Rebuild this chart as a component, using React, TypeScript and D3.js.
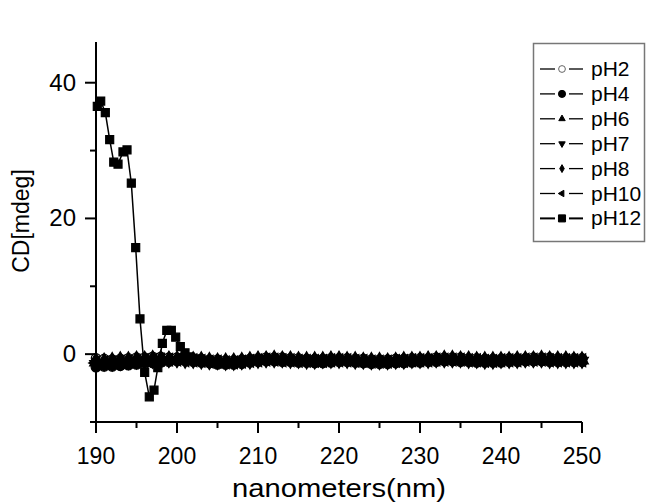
import React, { useEffect, useRef } from "react"
import * as d3 from "d3"

// wavelength grid shared by the pH2..pH10 spectra (nm)
const nm = [
  190, 191, 192, 193, 194, 195, 196, 197, 198, 199,
  200, 201, 202, 203, 204, 205, 206, 207, 208, 209,
  210, 211, 212, 213, 214, 215, 216, 217, 218, 219,
  220, 221, 222, 223, 224, 225, 226, 227, 228, 229,
  230, 231, 232, 233, 234, 235, 236, 237, 238, 239,
  240, 241, 242, 243, 244, 245, 246, 247, 248, 249, 250,
]

const pH2 = [
  -0.6, -0.7, -0.8, -0.7, -0.6, -0.5, -0.5, -0.4, -0.4, -0.5,
  -0.5, -0.6, -0.6, -0.7, -0.8, -0.8, -0.9, -0.9, -0.8, -0.7,
  -0.6, -0.5, -0.5, -0.5, -0.6, -0.6, -0.7, -0.7, -0.7, -0.6,
  -0.6, -0.6, -0.7, -0.7, -0.8, -0.8, -0.8, -0.7, -0.7, -0.6,
  -0.6, -0.6, -0.5, -0.5, -0.5, -0.5, -0.6, -0.6, -0.7, -0.7,
  -0.7, -0.6, -0.6, -0.6, -0.5, -0.5, -0.5, -0.6, -0.6, -0.6, -0.6,
]
const pH4 = [
  -1.9, -1.8, -1.8, -1.7, -1.6, -1.5, -1.4, -1.3, -1.2, -1.1,
  -1.0, -1.0, -1.1, -1.2, -1.3, -1.5, -1.5, -1.5, -1.4, -1.2,
  -1.1, -1.0, -1.0, -1.1, -1.1, -1.2, -1.2, -1.3, -1.3, -1.2,
  -1.1, -1.1, -1.2, -1.3, -1.4, -1.4, -1.4, -1.3, -1.3, -1.2,
  -1.2, -1.1, -1.1, -1.0, -1.0, -1.1, -1.1, -1.2, -1.2, -1.2,
  -1.2, -1.1, -1.1, -1.0, -1.0, -1.0, -1.1, -1.1, -1.1, -1.1, -1.1,
]
const pH6 = [
  -1.2, -1.3, -1.1, -1.0, -1.0, -0.9, -0.8, -0.8, -0.9, -0.8,
  -0.8, -0.9, -0.9, -1.0, -1.1, -1.1, -1.2, -1.1, -1.1, -1.0,
  -0.9, -0.8, -0.8, -0.8, -0.9, -0.9, -1.0, -1.0, -0.9, -0.9,
  -0.9, -0.9, -1.0, -1.0, -1.0, -1.1, -1.1, -1.0, -1.0, -0.9,
  -0.9, -0.8, -0.8, -0.8, -0.8, -0.8, -0.9, -0.9, -1.0, -1.0,
  -0.9, -0.9, -0.9, -0.8, -0.8, -0.8, -0.8, -0.9, -0.9, -0.9, -0.9,
]
const pH7 = [
  -1.5, -1.4, -1.4, -1.3, -1.2, -1.1, -1.0, -1.0, -0.9, -0.9,
  -0.9, -1.0, -1.0, -1.1, -1.2, -1.2, -1.3, -1.3, -1.2, -1.1,
  -1.0, -0.9, -0.9, -0.9, -1.0, -1.0, -1.1, -1.1, -1.0, -1.0,
  -1.0, -1.0, -1.1, -1.1, -1.2, -1.2, -1.2, -1.1, -1.1, -1.0,
  -1.0, -1.0, -0.9, -0.9, -0.9, -0.9, -1.0, -1.0, -1.1, -1.1,
  -1.0, -1.0, -1.0, -0.9, -0.9, -0.9, -1.0, -1.0, -1.0, -1.0, -1.0,
]
const pH8 = [
  -0.9, -1.0, -0.9, -0.8, -0.8, -0.7, -0.7, -0.6, -0.6, -0.7,
  -0.7, -0.7, -0.8, -0.8, -0.9, -1.0, -1.0, -1.0, -0.9, -0.8,
  -0.7, -0.7, -0.6, -0.7, -0.7, -0.8, -0.8, -0.8, -0.8, -0.7,
  -0.7, -0.8, -0.8, -0.9, -0.9, -0.9, -1.0, -0.9, -0.8, -0.8,
  -0.8, -0.7, -0.7, -0.6, -0.6, -0.7, -0.7, -0.8, -0.8, -0.8,
  -0.8, -0.8, -0.7, -0.7, -0.7, -0.6, -0.7, -0.7, -0.7, -0.8, -0.8,
]
const pH10 = [
  -1.3, -1.2, -1.2, -1.1, -1.1, -1.0, -0.9, -0.9, -0.8, -0.8,
  -0.8, -0.9, -0.9, -1.0, -1.1, -1.1, -1.2, -1.2, -1.1, -1.0,
  -0.9, -0.8, -0.8, -0.9, -0.9, -1.0, -1.0, -1.0, -1.0, -0.9,
  -0.9, -0.9, -1.0, -1.0, -1.1, -1.1, -1.1, -1.0, -1.0, -0.9,
  -0.9, -0.9, -0.8, -0.8, -0.8, -0.8, -0.9, -0.9, -1.0, -1.0,
  -0.9, -0.9, -0.9, -0.8, -0.8, -0.8, -0.9, -0.9, -0.9, -0.9, -0.9,
]

// pH12 has its own sampling near the 195 nm feature
const pH12Nm = [
  190.16, 190.58, 191.15, 191.69, 192.19, 192.72, 193.33, 193.83, 194.36, 194.9,
  195.43, 196.01, 196.58, 197.16, 197.63, 198.19, 198.74, 199.3, 199.84, 200.41,
  200.99, 201.6, 202.2,
  203, 204, 205, 206, 207, 208, 209, 210, 211, 212, 213, 214, 215, 216, 217, 218, 219,
  220, 221, 222, 223, 224, 225, 226, 227, 228, 229, 230, 231, 232, 233, 234, 235, 236,
  237, 238, 239, 240, 241, 242, 243, 244, 245, 246, 247, 248, 249, 250,
]
const pH12 = [
  36.5, 37.3, 35.6, 31.6, 28.3, 28.0, 29.8, 30.1, 25.2, 15.7,
  5.2, -2.7, -6.3, -5.3, -2.0, 1.6, 3.5, 3.5, 2.5, 1.1,
  0.2, -0.4, -0.7,
  -0.9, -1.0, -1.1, -1.2, -1.2, -1.1, -1.0, -0.9, -0.8, -0.8, -0.9, -0.9, -1.0, -1.0, -1.0, -1.0, -0.9,
  -0.9, -1.0, -1.0, -1.1, -1.1, -1.2, -1.1, -1.1, -1.0, -1.0, -0.9, -0.9, -0.8, -0.8, -0.8, -0.9, -0.9,
  -1.0, -1.0, -1.0, -0.9, -0.9, -0.9, -0.8, -0.8, -0.9, -0.9, -0.9, -0.9, -0.9, -0.9,
]

const seriesNames = ["pH2", "pH4", "pH6", "pH7", "pH8", "pH10", "pH12"]
const xTicks = [190, 200, 210, 220, 230, 240, 250]
const xMinor = [195, 205, 215, 225, 235, 245]
const yTicks = [0, 20, 40]
const yMinor = [-10, 10, 30]

const FONT = "'Liberation Sans', Arial, Helvetica, sans-serif"

export default function App() {
  const ref = useRef<SVGSVGElement>(null)

  useEffect(() => {
    const svg = d3.select(ref.current)
    svg.selectAll("*").remove()

    const x = d3.scaleLinear().domain([190, 250]).range([96, 582])
    const y = d3.scaleLinear().domain([-10, 46]).range([422, 42])

    // marker style per series: plot size, legend size
    const markers = [
      { type: d3.symbolCircle, size: 70, leg: 36, rot: 0, fill: "#fff" },
      { type: d3.symbolCircle, size: 75, leg: 40, rot: 0, fill: "#000" },
      { type: d3.symbolTriangle, size: 70, leg: 18, rot: 0, fill: "#000" },
      { type: d3.symbolTriangle, size: 70, leg: 18, rot: 180, fill: "#000" },
      { type: d3.symbolDiamond, size: 70, leg: 18, rot: 0, fill: "#000" },
      { type: d3.symbolTriangle, size: 70, leg: 18, rot: -90, fill: "#000" },
      { type: d3.symbolSquare, size: 64, leg: 50, rot: 0, fill: "#000" },
    ]

    const series = [
      nm.map((d, i) => [d, pH2[i]]),
      nm.map((d, i) => [d, pH4[i]]),
      nm.map((d, i) => [d, pH6[i]]),
      nm.map((d, i) => [d, pH7[i]]),
      nm.map((d, i) => [d, pH8[i]]),
      nm.map((d, i) => [d, pH10[i]]),
      pH12Nm.map((d, i) => [d, pH12[i]]),
    ]

    const line = d3
      .line<number[]>()
      .x(d => x(d[0]))
      .y(d => y(d[1]))

    const plot = svg.append("g")
    series.forEach((s, k) => {
      const m = markers[k]
      plot
        .append("path")
        .attr("d", line(s))
        .attr("fill", "none")
        .attr("stroke", "#000")
        .attr("stroke-width", k === 6 ? 1.5 : 3.5)
      plot
        .append("g")
        .selectAll("path")
        .data(s)
        .enter()
        .append("path")
        .attr("d", d3.symbol().type(m.type).size(m.size)())
        .attr("transform", d => `translate(${x(d[0])},${y(d[1])}) rotate(${m.rot})`)
        .attr("fill", m.fill)
        .attr("stroke", "#000")
        .attr("stroke-width", 1.2)
    })

    // axes
    const axes = svg.append("g").attr("stroke", "#000").attr("stroke-width", 2)
    axes.append("line").attr("x1", 96).attr("x2", 96).attr("y1", y(46)).attr("y2", 422)
    axes.append("line").attr("x1", 96).attr("x2", 582).attr("y1", 422).attr("y2", 422)
    xTicks.forEach(t => {
      axes.append("line").attr("x1", x(t)).attr("x2", x(t)).attr("y1", 422).attr("y2", 433)
    })
    xMinor.forEach(t => {
      axes.append("line").attr("x1", x(t)).attr("x2", x(t)).attr("y1", 422).attr("y2", 428)
    })
    yTicks.forEach(t => {
      axes.append("line").attr("x1", 85).attr("x2", 96).attr("y1", y(t)).attr("y2", y(t))
    })
    yMinor.forEach(t => {
      axes.append("line").attr("x1", 90).attr("x2", 96).attr("y1", y(t)).attr("y2", y(t))
    })

    svg
      .append("g")
      .selectAll("text")
      .data(xTicks)
      .enter()
      .append("text")
      .attr("x", d => x(d))
      .attr("y", 464)
      .attr("text-anchor", "middle")
      .attr("font-family", FONT)
      .attr("font-size", 23)
      .text(d => d)

    svg
      .append("g")
      .selectAll("text")
      .data(yTicks)
      .enter()
      .append("text")
      .attr("x", 76)
      .attr("y", d => y(d) + 8)
      .attr("text-anchor", "end")
      .attr("font-family", FONT)
      .attr("font-size", 24)
      .text(d => d)

    svg
      .append("text")
      .attr("x", 339)
      .attr("y", 497)
      .attr("text-anchor", "middle")
      .attr("font-family", FONT)
      .attr("font-size", 26)
      .attr("textLength", 214)
      .attr("lengthAdjust", "spacingAndGlyphs")
      .text("nanometers(nm)")

    svg
      .append("text")
      .attr("transform", "translate(29,221) rotate(-90)")
      .attr("text-anchor", "middle")
      .attr("font-family", FONT)
      .attr("font-size", 23)
      .text("CD[mdeg]")

    // legend
    const lg = svg.append("g")
    lg.append("rect")
      .attr("x", 533.5)
      .attr("y", 43.5)
      .attr("width", 111)
      .attr("height", 198)
      .attr("fill", "#fff")
      .attr("stroke", "#777")
      .attr("stroke-width", 1.5)
    seriesNames.forEach((name, k) => {
      const m = markers[k]
      const cy = 69 + k * 24.9
      const sw = k === 6 ? 2 : 1.3
      lg.append("line").attr("x1", 540).attr("x2", 555).attr("y1", cy).attr("y2", cy)
        .attr("stroke", "#000").attr("stroke-width", sw)
      lg.append("line").attr("x1", 569).attr("x2", 583).attr("y1", cy).attr("y2", cy)
        .attr("stroke", "#000").attr("stroke-width", sw)
      lg.append("path")
        .attr("d", d3.symbol().type(m.type).size(m.leg)())
        .attr("transform", `translate(562,${cy}) rotate(${m.rot})`)
        .attr("fill", m.fill)
        .attr("stroke", k === 0 ? "#666" : "#000")
        .attr("stroke-width", 1)
      lg.append("text")
        .attr("x", 591)
        .attr("y", cy + 7)
        .attr("font-family", FONT)
        .attr("font-size", 21)
        .text(name)
    })
  }, [])

  return (
    <svg
      ref={ref}
      width={646}
      height={503}
      style={{ position: "absolute", left: 0, top: 0, background: "#fff" }}
    />
  )
}
